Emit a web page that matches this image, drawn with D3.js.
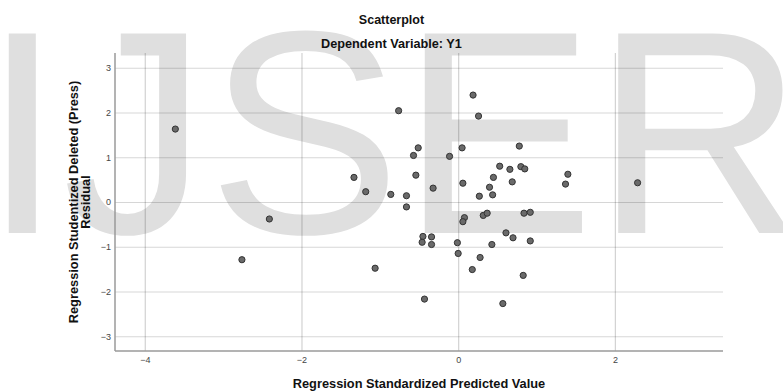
<!DOCTYPE html>
<html>
<head>
<meta charset="utf-8">
<script src="https://cdn.jsdelivr.net/npm/d3@7"></script>
<style>
  html, body { margin: 0; padding: 0; background: #fff; }
  svg { display: block; }
  text { font-family: "Liberation Sans", Arial, sans-serif; }
</style>
</head>
<body>
<script>
// ---- Data ----
const predicted = [
  -3.61, -0.76, -0.51, -0.57, -0.11, -1.33, -0.54, -1.18, -0.86, -0.66,
  -0.32, 0.19, 0.26, 0.05, 0.78, 0.53, 0.66, 0.80, 0.85, 0.45,
  1.40, 1.37, 2.29, 0.06, 0.40, 0.69, 0.27, 0.44, -2.41, -2.76,
  -1.06, -0.66, -0.45, -0.34, -0.46, -0.34, -0.01, 0.00, -0.43, 0.08,
  0.06, 0.32, 0.37, 0.84, 0.92, 0.61, 0.70, 0.43, 0.92, 0.28,
  0.18, 0.83, 0.57
];
const residual = [
  1.63, 2.04, 1.21, 1.04, 1.02, 0.55, 0.60, 0.23, 0.17, 0.14,
  0.31, 2.39, 1.92, 1.21, 1.25, 0.80, 0.73, 0.79, 0.74, 0.55,
  0.62, 0.40, 0.43, 0.42, 0.33, 0.45, 0.13, 0.16, -0.38, -1.29,
  -1.48, -0.11, -0.77, -0.78, -0.90, -0.95, -0.91, -1.15, -2.17, -0.35,
  -0.44, -0.30, -0.25, -0.25, -0.23, -0.69, -0.80, -0.95, -0.87, -1.24,
  -1.51, -1.64, -2.27
];
const xTicks = [-4, -2, 0, 2];
const yTicks = [-3, -2, -1, 0, 1, 2, 3];
const title = "Scatterplot";
const subtitle = "Dependent Variable: Y1";
const xLabel = "Regression Standardized Predicted Value";
const yLabelLines = ["Regression Studentized Deleted (Press)", "Residual"];
const watermark = "IJSER";

// ---- Layout ----
const W = 783, H = 392;
const m = { left: 115, top: 53, right: 60, bottom: 41 };

const svg = d3.select("body").append("svg")
  .attr("width", W).attr("height", H);

svg.append("rect").attr("width", W).attr("height", H).attr("fill", "#fff");

// Watermark behind the chart
svg.append("text")
  .attr("x", -18).attr("y", 233)
  .attr("font-size", 290)
  .attr("fill", "#dfdfdf")
  .text(watermark);

const x = d3.scaleLinear().domain([-4.38, 3.38]).range([m.left, W - m.right]);
const y = d3.scaleLinear().domain([-3.33, 3.33]).range([H - m.bottom, m.top]);

// Horizontal gridlines + y tick labels
const gy = svg.append("g")
  .attr("transform", `translate(${m.left},0)`)
  .call(d3.axisLeft(y).tickValues(yTicks).tickFormat(d3.format("d"))
    .tickSize(-(W - m.left - m.right)).tickPadding(4));
gy.select(".domain").remove();
gy.selectAll(".tick line").attr("stroke", "rgba(0,0,0,0.16)").attr("stroke-width", 1.2);
gy.selectAll(".tick text").attr("font-size", 9).attr("fill", "#444")
  .attr("font-family", "Liberation Sans, Arial, sans-serif");

// Vertical gridlines + x tick labels
const gx = svg.append("g")
  .attr("transform", `translate(0,${H - m.bottom})`)
  .call(d3.axisBottom(x).tickValues(xTicks).tickFormat(d3.format("d"))
    .tickSize(-(H - m.top - m.bottom)).tickPadding(6));
gx.select(".domain").remove();
gx.selectAll(".tick line").attr("stroke", "rgba(0,0,0,0.18)").attr("stroke-width", 1.2);
gx.selectAll(".tick text").attr("font-size", 9).attr("fill", "#444")
  .attr("font-family", "Liberation Sans, Arial, sans-serif");

// Axis lines
svg.append("line")
  .attr("x1", m.left).attr("x2", m.left)
  .attr("y1", m.top).attr("y2", H - m.bottom)
  .attr("stroke", "#9a9a9a").attr("stroke-width", 1.5);
svg.append("line")
  .attr("x1", m.left).attr("x2", W - m.right)
  .attr("y1", H - m.bottom).attr("y2", H - m.bottom)
  .attr("stroke", "#9a9a9a").attr("stroke-width", 1.5);

// Points
const pts = predicted.map((v, i) => ({ x: v, y: residual[i] }));
svg.append("g").selectAll("circle").data(pts).join("circle")
  .attr("cx", d => x(d.x)).attr("cy", d => y(d.y))
  .attr("r", 3.1)
  .attr("fill", "#6a6a6a")
  .attr("stroke", "#333")
  .attr("stroke-width", 1);

// Titles
svg.append("text").attr("x", 391.5).attr("y", 23.5)
  .attr("text-anchor", "middle").attr("font-weight", "bold")
  .attr("font-size", 12.5).attr("fill", "#111").text(title);
svg.append("text").attr("x", 391.5).attr("y", 47.5)
  .attr("text-anchor", "middle").attr("font-weight", "bold")
  .attr("font-size", 12.7).attr("fill", "#111").text(subtitle);

// X axis label
svg.append("text").attr("x", 419).attr("y", 388)
  .attr("text-anchor", "middle").attr("font-weight", "bold")
  .attr("font-size", 12.8).attr("fill", "#111").text(xLabel);

// Y axis label (two lines, rotated)
const yl = svg.append("text")
  .attr("transform", `translate(77.5,${(m.top + H - m.bottom) / 2}) rotate(-90)`)
  .attr("text-anchor", "middle").attr("font-weight", "bold")
  .attr("font-size", 12.8).attr("fill", "#111");
yl.selectAll("tspan").data(yLabelLines).join("tspan")
  .attr("x", 0).attr("dy", (d, i) => i === 0 ? 0 : 12)
  .text(d => d);
</script>
</body>
</html>
